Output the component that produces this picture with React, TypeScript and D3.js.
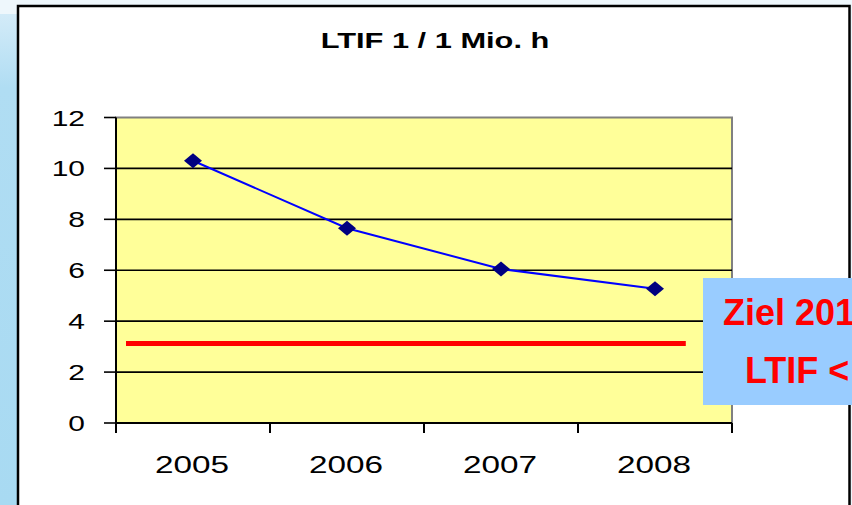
import React from "react";
import * as d3 from "d3";

// LTIF per 1 Mio. h, by year
const years = ["2005", "2006", "2007", "2008"];
const ltif = [10.3, 7.65, 6.05, 5.27];
const yTicks = [0, 2, 4, 6, 8, 10, 12];
const target = 3.12;
// target line runs from / to these category positions (index units)
const targetSpan = [-0.435, 3.2];
const titleText = "LTIF 1 / 1 Mio. h";
const boxLines = ["Ziel 2010", "LTIF < 3"];

const W = 852;
const H = 505;
const plot = { left: 116, right: 732, top: 117.5, bottom: 423 };
const font = "'Liberation Sans', Arial, sans-serif";
const sx = 1.36; // the source picture is stretched sideways

const App = () => {
  const x = d3
    .scaleBand<string>()
    .domain(years)
    .range([plot.left, plot.right]);
  const xi = d3
    .scaleLinear()
    .domain([-0.5, years.length - 0.5])
    .range([plot.left, plot.right]);
  const y = d3.scaleLinear().domain([0, 12]).range([plot.bottom, plot.top]);

  const line = d3
    .line<number>()
    .x((d, i) => x(years[i])! + x.bandwidth() / 2)
    .y((d) => y(d));

  const diamond = (cx: number, cy: number) =>
    `M${cx - 9},${cy} L${cx},${cy - 7.5} L${cx + 9},${cy} L${cx},${cy + 7.5} Z`;

  return (
    <svg
      width={W}
      height={H}
      style={{ position: "absolute", left: 0, top: 0, display: "block" }}
    >
      <defs>
        <linearGradient id="side" x1="0" y1="0" x2="0" y2="1">
          <stop offset="0" stopColor="#d3ebf8" />
          <stop offset="0.15" stopColor="#b0ddf3" />
          <stop offset="1" stopColor="#a8daf2" />
        </linearGradient>
      </defs>
      {/* slide background */}
      <rect x={0} y={0} width={W} height={H} fill="#eef7fc" />
      <rect x={0} y={14} width={18} height={H - 14} fill="url(#side)" />

      {/* chart frame */}
      <rect x={18} y={6} width={831.5} height={H + 20} fill="#fff" stroke="#000" strokeWidth={2.5} />

      {/* title */}
      <text
        transform={`translate(435,48) scale(1.4,1)`}
        textAnchor="middle"
        fontFamily={font}
        fontWeight="bold"
        fontSize={22}
      >
        {titleText}
      </text>

      {/* plot area */}
      <rect
        x={plot.left}
        y={plot.top}
        width={plot.right - plot.left}
        height={plot.bottom - plot.top}
        fill="#ffff99"
        stroke="#808080"
        strokeWidth={2}
      />
      {yTicks
        .filter((t) => t > 0 && t < 12)
        .map((t) => (
          <line
            key={t}
            x1={plot.left}
            x2={plot.right}
            y1={y(t)}
            y2={y(t)}
            stroke="#000"
            strokeWidth={1.6}
          />
        ))}

      {/* y axis */}
      <line x1={plot.left} x2={plot.left} y1={plot.top} y2={plot.bottom} stroke="#000" strokeWidth={2} />
      {yTicks.map((t) => (
        <g key={t}>
          <line x1={plot.left - 12} x2={plot.left} y1={y(t)} y2={y(t)} stroke="#000" strokeWidth={1.6} />
          <text
            transform={`translate(85,${y(t) + 8}) scale(${sx},1)`}
            textAnchor="end"
            fontFamily={font}
            fontSize={22}
          >
            {t}
          </text>
        </g>
      ))}

      {/* x axis */}
      <line x1={plot.left} x2={plot.right} y1={plot.bottom} y2={plot.bottom} stroke="#000" strokeWidth={2} />
      {d3.range(years.length + 1).map((i) => (
        <line
          key={i}
          x1={xi(i - 0.5)}
          x2={xi(i - 0.5)}
          y1={plot.bottom}
          y2={plot.bottom + 10}
          stroke="#000"
          strokeWidth={2}
        />
      ))}
      {years.map((yr) => (
        <text
          key={yr}
          transform={`translate(${x(yr)! + x.bandwidth() / 2 - 1},473) scale(${sx},1)`}
          textAnchor="middle"
          fontFamily={font}
          fontSize={24.5}
        >
          {yr}
        </text>
      ))}

      {/* target line */}
      <line
        x1={xi(targetSpan[0])}
        x2={xi(targetSpan[1])}
        y1={y(target)}
        y2={y(target)}
        stroke="#ff0000"
        strokeWidth={5}
      />

      {/* series */}
      <path d={line(ltif)!} fill="none" stroke="#0000ff" strokeWidth={2} />
      {ltif.map((v, i) => (
        <path key={i} d={diamond(x(years[i])! + x.bandwidth() / 2, y(v))} fill="#000080" />
      ))}

      {/* goal box, cut off by the right page edge as in the source */}
      <rect x={703} y={278} width={200} height={127} fill="#99ccff" />
      <text x={723} y={325} fontFamily={font} fontWeight="bold" fontSize={36} fill="#ff0000">
        {boxLines[0]}
      </text>
      <text x={745} y={383} fontFamily={font} fontWeight="bold" fontSize={36} fill="#ff0000">
        {boxLines[1]}
      </text>
    </svg>
  );
};

export default App;
